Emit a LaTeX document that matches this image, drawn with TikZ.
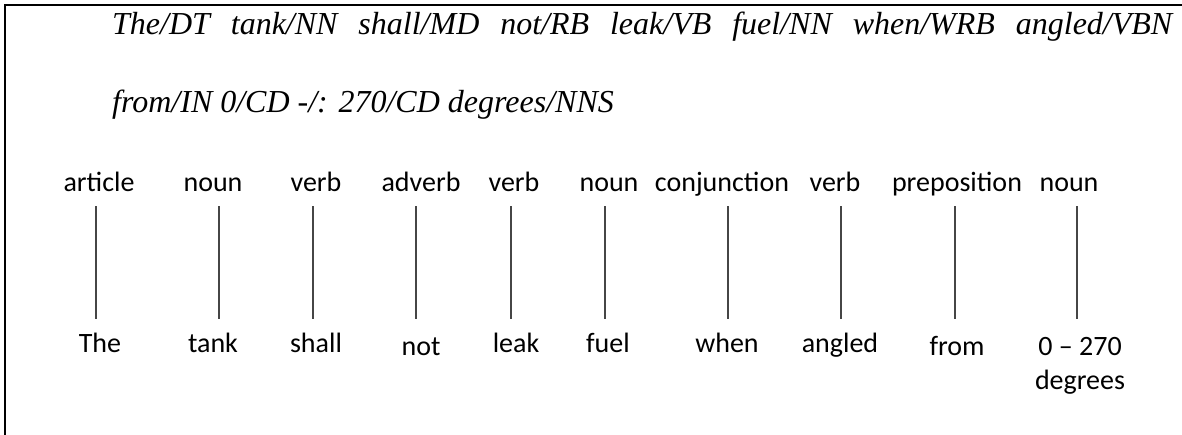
\documentclass[tikz,border=0pt]{standalone}
\usepackage{fontspec}
\setmainfont{Liberation Serif}
\newfontfamily\calibri{Carlito}
\usepackage{tikz}
\usetikzlibrary{positioning}
\definecolor{stemgray}{RGB}{70,70,70}

\begin{document}
\begin{tikzpicture}[x=1pt, y=-1pt,
    tagline/.style={anchor=base west, inner sep=0pt, font=\fontsize{32}{38}\selectfont\itshape},
    poslabel/.style={anchor=base, inner sep=0pt, text depth=6pt, font=\calibri\fontsize{28}{34}\selectfont},
    wordlabel/.style={anchor=base, inner sep=0pt, text height=24pt, font=\calibri\fontsize{28}{34}\selectfont},
    stem/.style={draw=stemgray, line width=1.2pt, shorten <=8pt}
]
    \useasboundingbox (0,0) rectangle (1182,435);
    % frame, cut at the right and at the bottom
    \draw[line width=2.3pt] (1182,5) -- (5,5) -- (5,435);

    % tagged sentence
    \node[tagline] (tags1) at (112,35) {\makebox[1060pt][s]{The/DT tank/NN shall/MD not/RB leak/VB fuel/NN when/WRB angled/VBN}};
    \node[tagline] (tags2) at (112,113) {from/IN 0/CD -/: 270/CD degrees/NNS};

    % parts of speech over the words
    \foreach \n/\x/\lx/\wx/\wy/\pos/\word in {
        1/96/99/100/352/article/The,
        2/219/213/213/352/noun/tank,
        3/313/316/316/352/verb/shall,
        4/416/421/421/355/adverb/not,
        5/511/514/516/352/verb/leak,
        6/605/609/608/352/noun/fuel,
        7/728/722/727/352/conjunction/when,
        8/841/835/840/352/verb/angled,
        9/955/957/957/355/preposition/from,
        10/1077/1069/1080/355/noun/{\begin{tabular}[t]{@{}c@{}}0 – 270\\degrees\end{tabular}}}{
        \coordinate (x\n) at (\x,0);
        \node[poslabel] (pos\n) at (\lx,192) {\pos};
        \node[wordlabel] (word\n) at (\wx,\wy) {\word};
        \draw[stem, shorten >={(\wy-343)*1pt}] (pos\n.south -| x\n) -- (word\n.north -| x\n);
    }
\end{tikzpicture}
\end{document}
